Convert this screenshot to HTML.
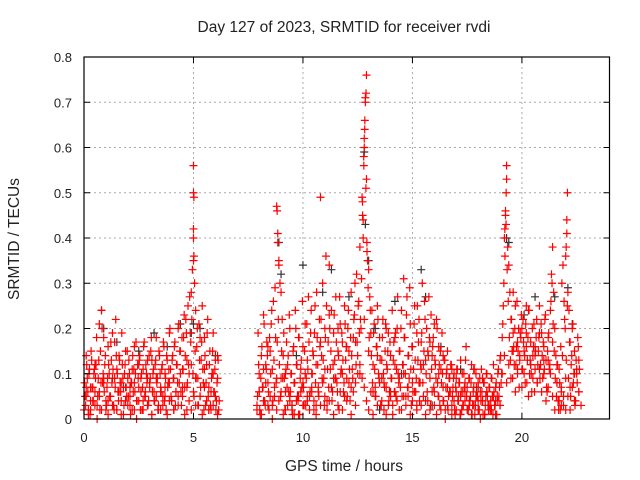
<!DOCTYPE html>
<html><head><meta charset="utf-8"><style>
body{margin:0;background:#fff}
svg{display:block;font-family:"Liberation Sans",sans-serif;font-size:13px}
.big{font-size:15.5px}
</style></head><body>
<svg id="chart" width="640" height="480">
<rect width="640" height="480" fill="#fff"/>
<g id="grid"></g><g id="black"></g><g id="red"></g>
<rect x="84" y="57" width="525.5" height="362" fill="none" stroke="#000" stroke-width="1.2"/>
<g id="ticks"></g>
<text class="big" x="344" y="32" text-anchor="middle" fill="#222">Day 127 of 2023, SRMTID for receiver rvdi</text>
<text class="big" x="344" y="471" text-anchor="middle" fill="#222">GPS time / hours</text>
<text class="big" transform="translate(19,239) rotate(-90)" text-anchor="middle" fill="#222">SRMTID / TECUs</text>
</svg>
<script>
const xTicks=[0,5,10,15,20];
const yTicks=[0,0.1,0.2,0.3,0.4,0.5,0.6,0.7,0.8];
const yTickLabels=["0","0.1","0.2","0.3","0.4","0.5","0.6","0.7","0.8"];
const blackPts=[[0.8,.24],[0.9,.20],[1.5,.17],[2.5,.15],[3.2,.19],[3.8,.16],[4.4,.21],[4.9,.19],[5.0,.21],[5.3,.20],[6.0,.14],[8.9,.39],[9.0,.32],[9.7,.14],[10.0,.34],[10.9,.28],[11.3,.33],[12.1,.27],[12.8,.59],[12.85,.43],[13.0,.35],[13.3,.20],[14.2,.26],[14.5,.10],[15.4,.33],[15.6,.27],[16.3,.16],[17.2,.11],[18.0,.07],[19.3,.40],[19.4,.39],[20.1,.23],[20.6,.27],[21.5,.27],[22.1,.29],[22.3,.21],[13.5,.02],[15.9,.03],[9.5,.03],[11.9,.05]];
const redPtsA=[[0.05,.05],[0.1,.14],[0.15,.09],[0.2,.02],[0.25,.11],[0.3,.07],[0.35,.13],[0.4,.04],[0.45,.10],[0.5,.06],[0.55,.12],[0.6,.03],[0.65,.09],[0.7,.21],[0.75,.15],[0.8,.24],[0.85,.08],[0.9,.18],[0.95,.12],[1.0,.02],[1.05,.07],[1.1,.16],[1.15,.10],[1.2,.05],[1.25,.13],[1.3,.09],[1.35,.03],[1.4,.17],[1.45,.22],[1.5,.11],[1.55,.06],[1.6,.14],[1.65,.08],[1.7,.01],[1.75,.12],[1.8,.07],[1.85,.10],[1.9,.15],[1.95,.05],[2.0,.09],[2.05,.13],[2.1,.03],[2.15,.08],[2.2,.11],[2.25,.06],[2.3,.16],[2.35,.10],[2.4,.04],[2.45,.12],[2.5,.07],[2.55,.14],[2.6,.09],[2.65,.02],[2.7,.11],[2.75,.17],[2.8,.06],[2.85,.10],[2.9,.13],[2.95,.04],[3.0,.08],[3.05,.15],[3.1,.01],[3.15,.10],[3.2,.06],[3.25,.12],[3.3,.18],[3.35,.09],[3.4,.03],[3.45,.14],[3.5,.07],[3.55,.11],[3.6,.05],[3.65,.16],[3.7,.10],[3.75,.02],[3.8,.13],[3.85,.08],[3.9,.19],[3.95,.11],[4.0,.04],[4.05,.14],[4.1,.09],[4.15,.17],[4.2,.06],[4.25,.12],[4.3,.20],[4.35,.08],[4.4,.15],[4.45,.03],[4.5,.11],[4.55,.18],[4.6,.07],[4.65,.22],[4.7,.13],[4.75,.25],[4.8,.10],[4.85,.19],[4.9,.28],[4.95,.33],[5.0,.56],[5.0,.50],[5.02,.49],[5.0,.42],[5.0,.40],[5.02,.36],[5.0,.35],[5.05,.30],[5.1,.24],[5.15,.16],[5.2,.09],[5.25,.21],[5.3,.05],[5.35,.13],[5.4,.25],[5.45,.08],[5.5,.18],[5.55,.03],[5.6,.12],[5.65,.22],[5.7,.07],[5.75,.15],[5.8,.02],[5.85,.10],[5.9,.19],[5.95,.06],[6.0,.13],[6.05,.04],[6.1,.09],[6.15,.02],
[0.1,.07],[0.3,.02],[0.5,.12],[0.7,.05],[0.9,.09],[1.1,.04],[1.3,.19],[1.5,.02],[1.7,.08],[1.9,.04],[2.1,.07],[2.3,.02],[2.5,.12],[2.7,.04],[2.9,.09],[3.1,.13],[3.3,.05],[3.5,.02],[3.7,.07],[3.9,.04],[4.1,.02],[4.3,.05],[4.5,.07],[4.7,.02],[4.9,.12],[5.1,.03],[5.3,.18],[5.5,.11],[5.7,.02],[5.9,.10],[6.1,.14]];
const redPtsB=[[7.9,.03],[7.95,.19],[8.0,.10],[8.05,.01],[8.1,.14],[8.15,.07],[8.2,.23],[8.25,.04],[8.3,.12],[8.35,.17],[8.4,.08],[8.45,.02],[8.5,.15],[8.55,.21],[8.6,.11],[8.65,.26],[8.7,.05],[8.75,.18],[8.8,.47],[8.82,.46],[8.85,.41],[8.85,.39],[8.9,.35],[8.9,.34],[8.95,.30],[9.0,.28],[9.05,.22],[9.1,.14],[9.15,.09],[9.2,.02],[9.25,.17],[9.3,.12],[9.35,.06],[9.4,.20],[9.45,.10],[9.5,.03],[9.55,.15],[9.6,.08],[9.65,.24],[9.7,.12],[9.75,.05],[9.8,.18],[9.85,.01],[9.9,.11],[9.95,.07],[10.0,.16],[10.05,.03],[10.1,.21],[10.15,.09],[10.2,.13],[10.25,.27],[10.3,.05],[10.35,.19],[10.4,.10],[10.45,.15],[10.5,.02],[10.55,.25],[10.6,.12],[10.65,.18],[10.7,.07],[10.75,.22],[10.8,.49],[10.85,.14],[10.9,.30],[10.95,.09],[11.0,.20],[11.05,.36],[11.1,.04],[11.15,.17],[11.2,.34],[11.25,.11],[11.3,.24],[11.35,.06],[11.4,.19],[11.45,.13],[11.5,.27],[11.55,.08],[11.6,.15],[11.65,.02],[11.7,.21],[11.75,.11],[11.8,.17],[11.85,.06],[11.9,.25],[11.95,.13],[12.0,.09],[12.05,.20],[12.1,.15],[12.15,.04],[12.2,.28],[12.25,.11],[12.3,.18],[12.35,.23],[12.4,.08],[12.45,.32],[12.5,.14],[12.55,.26],[12.6,.38],[12.65,.20],[12.7,.49],[12.72,.48],[12.75,.44],[12.75,.40],[12.78,.56],[12.8,.60],[12.8,.62],[12.82,.64],[12.85,.70],[12.85,.71],[12.88,.72],[12.9,.76],[12.9,.53],[12.92,.39],[12.95,.35],[13.0,.33],[13.05,.27],[13.1,.19],[13.15,.24],[13.2,.12],[13.25,.21],[13.3,.07],[13.35,.16],[13.4,.25],[13.45,.10],[13.5,.18],[13.55,.03],[13.6,.13],[13.65,.22],[13.7,.08],[13.75,.15],[13.8,.01],[13.85,.11],[13.9,.19],[13.95,.06],[14.0,.14],[14.05,.09],[14.1,.03],[14.15,.17],[14.2,.12],[14.25,.05],[14.3,.20],[14.35,.10],[14.4,.15],[14.45,.07],[14.5,.24],[14.55,.12],[14.6,.31],[14.65,.18],[14.7,.05],[14.75,.27],[14.8,.14],[14.85,.09],[14.9,.21],[14.95,.03],[15.0,.16],[15.05,.11],[15.1,.25],[15.15,.06],[15.2,.19],[15.25,.13],[15.3,.22],[15.35,.08],[15.4,.17],[15.45,.30],[15.5,.12],[15.55,.26],[15.6,.04],[15.65,.20],[15.7,.15],[15.75,.27],[15.8,.09],[15.85,.23],[15.9,.14],[15.95,.18],[16.0,.06],[16.05,.12],[16.1,.22],[16.15,.08],[16.2,.16],[16.25,.03],[16.3,.11],[16.35,.19],[16.4,.07],[16.45,.13],[16.5,.02],[16.55,.10],[16.6,.15],[16.65,.05],[16.7,.09],[16.75,.12],[16.8,.03],[16.85,.07],[16.9,.10],[16.95,.01],[17.0,.06],[17.05,.11],[17.1,.04],[17.15,.08],[17.2,.13],[17.25,.02],[17.3,.06],[17.35,.10],[17.4,.04],[17.45,.16],[17.5,.07],[17.55,.02],[17.6,.09],[17.65,.05],[17.7,.12],[17.75,.03],[17.8,.07],[17.85,.01],[17.9,.10],[17.95,.05],[18.0,.08],[18.05,.02],[18.1,.06],[18.15,.11],[18.2,.04],[18.25,.08],[18.3,.01],[18.35,.05],[18.4,.10],[18.45,.03],[18.5,.07],[18.55,.02],[18.6,.09],[18.65,.05],[18.7,.12],[18.75,.03],[18.8,.07],[18.85,.01],[18.9,.10],[18.95,.05],[19.0,.13],[19.05,.08],[19.1,.18],[19.15,.25],[19.2,.40],[19.22,.42],[19.25,.45],[19.25,.46],[19.28,.50],[19.3,.53],[19.3,.56],[19.35,.38],[19.4,.34],[19.45,.28],[19.5,.22],[19.55,.15],[19.6,.19],[19.65,.12],[19.7,.25],[19.75,.16],[19.8,.10],[19.85,.20],[19.9,.14],[19.95,.18],[20.0,.11],[20.05,.22],[20.1,.15],[20.15,.08],[20.2,.19],[20.25,.13],[20.3,.24],[20.35,.10],[20.4,.17],[20.45,.06],[20.5,.14],[20.55,.21],[20.6,.11],[20.65,.18],[20.7,.08],[20.75,.15],[20.8,.25],[20.85,.12],[20.9,.19],[20.95,.09],[21.0,.16],[21.05,.22],[21.1,.13],[21.15,.06],[21.2,.18],[21.25,.11],[21.3,.24],[21.35,.32],[21.4,.38],[21.45,.28],[21.5,.20],[21.55,.14],[21.6,.08],[21.65,.04],[21.7,.11],[21.75,.02],[21.8,.07],[21.85,.14],[21.9,.05],[21.95,.22],[22.0,.36],[22.02,.38],[22.05,.41],[22.05,.44],[22.08,.50],[22.1,.28],[22.15,.24],[22.2,.17],[22.25,.12],[22.3,.20],[22.35,.08],[22.4,.15],[22.45,.04],[22.5,.11],[22.55,.18],[22.6,.06],
[8.0,.06],[8.2,.11],[8.4,.16],[8.6,.03],[8.8,.09],[9.0,.06],[9.2,.10],[9.4,.04],[9.6,.01],[9.8,.05],[10.0,.08],[10.2,.04],[10.4,.06],[10.6,.03],[10.8,.17],[11.0,.11],[11.2,.23],[11.4,.09],[11.6,.20],[11.8,.10],[12.0,.16],[12.2,.07],[12.4,.17],[12.6,.10],[12.8,.22],[13.0,.15],[13.2,.06],[13.4,.14],[13.6,.09],[13.8,.20],[14.0,.06],[14.2,.18],[14.4,.02],[14.6,.10],[14.8,.05],[15.0,.08],[15.2,.03],[15.4,.11],[15.6,.13],[15.8,.17],[16.0,.21],[16.2,.10],[16.4,.14],[16.6,.07],[16.8,.11],[17.0,.09],[17.2,.05],[17.4,.08],[17.6,.03],[17.8,.11],[18.0,.04],[18.2,.09],[18.4,.06],[18.6,.02],[18.8,.04],[19.0,.03],[19.6,.28],[19.8,.17],[20.0,.20],[20.2,.25],[20.4,.12],[20.6,.16],[20.8,.19],[21.0,.10],[21.2,.13],[21.4,.17],[21.6,.12],[21.8,.03],[22.0,.02],[22.2,.07],[22.4,.10],[22.6,.13]];
// regularly sampled extra epochs
const redC1Start=0.025;
const redC1Vals=[.08,.03,.12,.06,.10,.01,.15,.07,.04,.11,.09,.18,.05,.13,.02,.08,.20,.10,.06,.14,.03,.09,.12,.05,.17,.08,.11,.02,.07,.14,.10,.04,.13,.06,.19,.09,.03,.12,.07,.15,.05,.10,.01,.08,.14,.11,.06,.17,.04,.09,.13,.02,.10,.07,.16,.05,.12,.08,.03,.14,.09,.18,.06,.11,.04,.13,.08,.02,.15,.10,.06,.12,.17,.04,.09,.14,.07,.11,.20,.05,.13,.09,.16,.03,.12,.08,.21,.15,.06,.18,.11,.23,.14,.19,.08,.12,.27,.17,.22,.10,.05,.15,.09,.20,.03,.13,.07,.17,.11,.02,.14,.08,.19,.05,.12,.03,.09,.15,.06,.11,.02,.08,.13,.04];
const redC2Start=7.925;
const redC2Vals=[.05,.12,.02,.09,.16,.07,.21,.03,.11,.14,.06,.18,.10,.24,.04,.13,.29,.08,.17,.22,.12,.05,.15,.09,.19,.02,.11,.07,.14,.23,.06,.10,.01,.16,.08,.20,.12,.04,.18,.09,.13,.26,.07,.15,.03,.21,.11,.17,.06,.24,.10,.14,.19,.08,.28,.12,.05,.16,.22,.09,.13,.03,.18,.25,.11,.07,.20,.15,.04,.12,.23,.09,.17,.06,.14,.27,.10,.19,.13,.08,.21,.16,.05,.24,.11,.18,.14,.09,.22,.30,.12,.17,.25,.19,
.22,.31,.45,.58,.66,.51,.37,.29,.18,.24,
.14,.08,.19,.11,.05,.16,.22,.09,.13,.03,.18,.10,.07,.21,.12,.15,.04,.17,.09,.24,.13,.06,.19,.11,.27,.08,.15,.20,.05,.12,.18,.10,.23,.07,.14,.29,.11,.16,.06,.21,.13,.09,.25,.17,.04,.12,.19,.08,.15,.22,.10,.06,.14,.18,.03,.11,.16,.07,.13,.09,.20,.05,.12,.15,.08,.10,.04,.13,.07,.11,.02,.09,.06,.12,
.05,.09,.02,.07,.11,.04,.08,.01,.06,.10,.03,.07,.13,.05,.02,.09,.04,.08,.01,.06,.11,.03,.07,.05,.02,.09,.04,.06,.01,.08,.03,.10,.05,.02,.07,.04,.09,.01,.06,.03,.08,.05,.11,.07,.14,.10,
.21,.30,.36,.43,.33,.26,
.18,.13,.22,.09,.16,.20,.12,.26,.15,.07,.19,.23,.11,.17,.14,.21,.08,.18,.24,.13,.10,.20,.16,.06,.15,.22,.12,.18,.09,.21,.14,.17,.11,.23,.07,.15,.19,.12,
.26,.30,.21,.15,.09,.05,.12,.02,.08,.16,.30,.34,.26,.20,.13,.25,.09,.17,.05,.14,.21,.10,.03,.13,.08,.16,.11];
const redC3Start=0.0;
const redC3Vals=[.02,.05,.01,.04,.07,.03,.00,.06,.02,.08,.04,.01,.05,.03,.09,.02,.06,.04,.01,.07,.03,.05,.02,.08,.00,.04,.06,.02,.05,.03,.07,.01,.04,.09,.02,.06,.03,.05,.01,.08,.04,.02,.06,.03,.10,.05,.01,.07,.04,.02,.06,.09,.03,.05,.01,.07,.04,.02,.06,.03,.05,.01];
const redC4Start=7.9;
const redC4Vals=[.02,.06,.01,.04,.08,.03,.05,.00,.07,.02,.04,.09,.01,.06,.03,.05,.02,.08,.04,.01,.06,.03,.10,.05,.02,.07,.04,.01,.06,.03,.08,.05,.02,.04,.07,.01,.09,.03,.06,.02,.05,.04,.08,.01,.06,.03,.10,.12,.09,.07,.04,.02,.06,.01,.05,.03,.08,.04,.02,.07,.03,.05,.01,.06,.04,.09,.02,.05,.03,.07,.01,.04,.06,.02,.08,.03,.05,.01,.04,.02,.06,.03,.01,.05,.02,.04,.00,.03,.06,.01,.04,.02,.05,.01,.03,.06,.02,.04,.01,.03,.05,.02,.00,.04,.01,.06,.03,.02,.05,.01,.04,.03,.10,.14,.08,.12,.09,.15,.06,.11,.13,.07,.10,.16,.05,.12,.09,.14,.08,.11,.06,.13,.04,.07,.10,.05,.02,.08,.04,.06,.03,.09,.05,.02,.07,.04,.10,.06,.03];
const EPOCH=0.05;
const EPOCH2=0.1;

const X0=84,X1=609.5,Y0=419,Y1=57,XMAX=24,YMAX=0.8;
function sx(t){return X0+(X1-X0)*t/XMAX;}
function sy(v){return Y0-(Y0-Y1)*v/YMAX;}
const NS="http://www.w3.org/2000/svg";
function mk(tag,attrs,parent){const e=document.createElementNS(NS,tag);for(const k in attrs)e.setAttribute(k,attrs[k]);parent.appendChild(e);return e;}
const grid=document.getElementById('grid'),ticks=document.getElementById('ticks');
yTicks.forEach((v,i)=>{const y=sy(v);
 if(i>0&&i<yTicks.length-1){const g=mk('line',{x1:X0,x2:X1,y1:y,y2:y,stroke:'#aaa','stroke-dasharray':'2,3','stroke-width':1},grid);
 
 }
 mk('line',{x1:X0,x2:X0+6,y1:y,y2:y,stroke:'#000'},ticks);
 mk('line',{x1:X1,x2:X1-6,y1:y,y2:y,stroke:'#000'},ticks);
 const t=mk('text',{x:X0-12,y:y+5,'text-anchor':'end',fill:'#222'},ticks);t.textContent=yTickLabels[i];
 
 
});
xTicks.forEach(v=>{const x=sx(v);
 if(v>0){const g=mk('line',{x1:x,x2:x,y1:Y0,y2:Y1,stroke:'#aaa','stroke-dasharray':'2,3','stroke-width':1},grid);
 
 }
 mk('line',{x1:x,x2:x,y1:Y0,y2:Y0-6,stroke:'#000'},ticks);
 mk('line',{x1:x,x2:x,y1:Y1,y2:Y1+6,stroke:'#000'},ticks);
 const t=mk('text',{x:x,y:Y0+23,'text-anchor':'middle',fill:'#222'},ticks);t.textContent=String(v);
 
 
});
function plot(pts,color,gid,name){const g=document.getElementById(gid);
 pts.forEach(p=>{const x=sx(p[0]),y=sy(p[1]);
  const e=mk('path',{d:`M${x-4},${y}H${x+4}M${x},${y-4}V${y+4}`,stroke:color,'stroke-width':1.2,fill:'none'},g);
  
  
 });}
function sampled(start,vals,step){return vals.map((v,i)=>[start+i*step,v]);}
plot(blackPts,'#333','black','black-point');
plot(redPtsA,'#ff0000','red','red-point');
plot(redPtsB,'#ff0000','red','red-point');
plot(sampled(redC1Start,redC1Vals,EPOCH),'#ff0000','red','red-point');
plot(sampled(redC2Start,redC2Vals,EPOCH),'#ff0000','red','red-point');
plot(sampled(redC3Start,redC3Vals,EPOCH2),'#ff0000','red','red-point');
plot(sampled(redC4Start,redC4Vals,EPOCH2),'#ff0000','red','red-point');
</script>
</body></html>
